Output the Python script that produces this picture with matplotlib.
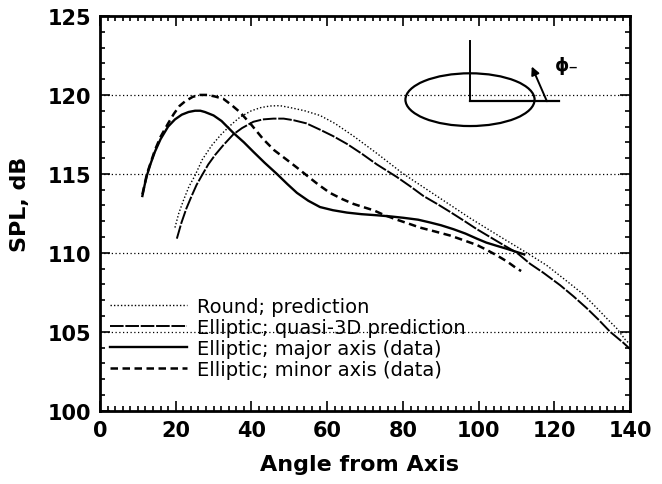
import matplotlib
matplotlib.use("Agg")
import matplotlib.pyplot as plt
from matplotlib.patches import Ellipse

plt.rcParams['font.family'] = ['DejaVu Sans']

# Elliptic jet, major axis (data)
major_x = [11.2, 11.8, 12.4, 13.3, 14.5, 16.0, 18.0, 19.8, 21.6, 23.4, 25.1, 26.5,
           27.7, 30.0, 32.1, 35.2, 38.0, 40.5, 43.5, 46.7, 49.5, 52.0, 55.0, 58.1,
           61.5, 65.2, 69.0, 73.1, 77.0, 80.1, 84.0, 87.2, 90.0, 93.3, 96.5, 99.5,
           102.0, 104.7, 107.5, 110.1, 112.0]
major_y = [113.6, 114.3, 114.9, 115.6, 116.4, 117.2, 118.0, 118.45, 118.75, 118.92, 119.0, 119.0,
           118.92, 118.7, 118.35, 117.6, 117.0, 116.4, 115.7, 115.0, 114.35, 113.8, 113.3, 112.9,
           112.7, 112.55, 112.45, 112.38, 112.3, 112.22, 112.1, 111.92, 111.75, 111.5, 111.22, 110.9,
           110.65, 110.45, 110.25, 110.05, 109.9]

# Elliptic jet, minor axis (data)
minor_x = [11.2, 12.4, 14.5, 16.0, 18.0, 19.5, 21.0, 22.5, 24.5, 26.4, 28.4, 30.4,
           32.6, 34.8, 37.0, 40.0, 43.1, 46.0, 49.3, 52.0, 54.6, 57.5, 60.7, 64.0,
           66.9, 69.5, 72.2, 75.0, 78.4, 81.5, 84.5, 88.5, 92.4, 96.0, 99.5, 102.0,
           104.7, 107.5, 110.1, 111.2]
minor_y = [113.7, 115.0, 116.5, 117.35, 118.2, 118.8, 119.3, 119.6, 119.88, 120.0, 120.0, 119.9,
           119.75, 119.35, 118.9, 118.1, 117.2, 116.5, 115.9, 115.4, 114.9, 114.35, 113.8, 113.4,
           113.1, 112.9, 112.7, 112.4, 112.1, 111.85, 111.6, 111.35, 111.1, 110.8, 110.5, 110.2,
           109.85, 109.45, 109.0, 108.85]

# Elliptic jet, quasi-3D prediction
quasi_x = [20.3, 21.5, 22.8, 24.2, 25.5, 26.9, 28.6, 30.4, 32.5, 35.2, 37.5, 40.5,
           43.0, 45.8, 48.5, 51.1, 54.5, 58.1, 61.5, 65.2, 69.0, 73.1, 78.4, 82.0,
           85.4, 89.0, 92.4, 96.0, 99.5, 103.0, 106.5, 110.1, 113.6, 117.0, 121.5, 125.0,
           128.5, 131.5, 134.7, 138.2, 140.0]
quasi_y = [110.9, 111.9, 112.8, 113.6, 114.3, 114.9, 115.6, 116.2, 116.8, 117.5, 117.9, 118.3,
           118.45, 118.5, 118.5, 118.4, 118.2, 117.8, 117.4, 116.9, 116.3, 115.6, 114.8, 114.2,
           113.6, 113.1, 112.6, 112.05, 111.5, 111.0, 110.5, 110.0, 109.3, 108.75, 107.95, 107.25,
           106.5, 105.8, 105.0, 104.3, 103.9]

# Round jet, prediction
round_x = [19.8, 20.8, 22.0, 23.5, 25.1, 27.0, 29.5, 32.0, 34.8, 37.0, 40.0, 42.5,
           44.9, 47.5, 50.2, 54.0, 58.1, 62.0, 66.9, 73.1, 80.1, 88.9, 97.7, 106.5,
           112.7, 118.0, 123.3, 127.5, 131.2, 134.0, 136.5, 138.7, 140.0]
round_y = [111.6, 112.5, 113.3, 114.2, 114.9, 115.9, 116.8, 117.5, 118.15, 118.6, 119.0, 119.2,
           119.3, 119.32, 119.2, 119.0, 118.7, 118.2, 117.4, 116.3, 115.0, 113.6, 112.2, 110.9,
           110.0, 109.2, 108.2, 107.4, 106.5, 105.8, 105.2, 104.5, 104.2]

labels = ["Round; prediction",
          "Elliptic; quasi-3D prediction",
          "Elliptic; major axis (data)",
          "Elliptic; minor axis (data)"]

fig = plt.figure(figsize=(6.62, 4.85), dpi=100)
ax = fig.add_axes([0.151, 0.151, 0.801, 0.814])

# horizontal dotted grid
for g in [105, 110, 115, 120]:
    ax.axhline(g, color='black', lw=0.9, ls=(0, (1, 2)), zorder=1)

l1, = ax.plot(round_x, round_y, color='black', lw=1.0, ls=(0, (1, 1.5)))
l2, = ax.plot(quasi_x, quasi_y, color='black', lw=1.4, ls=(0, (7, 0.9)))
l3, = ax.plot(major_x, major_y, color='black', lw=1.7, ls='-')
l4, = ax.plot(minor_x, minor_y, color='black', lw=1.8, ls=(0, (3.0, 1.8)))

# sketch of nozzle cross section with azimuthal angle
ax.add_patch(Ellipse((97.7, 119.7), 34.1, 3.34, fill=False, color='black', lw=1.6))
ax.plot([97.7, 97.7], [119.7, 123.4], color='black', lw=1.4)
ax.plot([97.7, 121.2], [119.6, 119.6], color='black', lw=1.6)
ax.annotate('', xy=(114.0, 121.8), xytext=(118.0, 119.6),
            arrowprops=dict(arrowstyle='-|>', color='black', lw=1.4,
                            mutation_scale=12, shrinkA=0, shrinkB=0))
ax.text(120.0, 121.9, '\u03d5\u208b', fontsize=13, fontweight='bold',
        ha='left', va='center')

ax.set_xlim(0, 140)
ax.set_ylim(100, 125)
ax.set_xticks(range(0, 141, 20))
ax.set_xticks(range(0, 141, 2), minor=True)
ax.set_yticks(range(100, 126, 5))
ax.set_yticks(range(100, 126, 1), minor=True)
ax.tick_params(which='both', direction='in', top=True, right=True, width=1.2)
ax.tick_params(which='major', length=7, labelsize=15, pad=6)
ax.tick_params(axis='x', which='major', pad=7)
ax.tick_params(which='minor', length=3.5)
for lab in ax.get_xticklabels() + ax.get_yticklabels():
    lab.set_fontweight('bold')
for s in ax.spines.values():
    s.set_linewidth(2.0)

ax.set_xlabel('Angle from Axis', fontsize=16, fontweight='bold')
ax.set_ylabel('SPL, dB', fontsize=16, fontweight='bold')
ax.xaxis.set_label_coords(0.49, -0.11)
ax.yaxis.set_label_coords(-0.132, 0.525)

ax.legend([l1, l2, l3, l4], labels, loc='upper left', frameon=False,
          bbox_to_anchor=(2.6, 107.2), bbox_transform=ax.transData,
          borderpad=0, borderaxespad=0, handlelength=3.96, handletextpad=0.5,
          labelspacing=0.1, prop={'size': 14})

fig.savefig('out.png', dpi=100)
